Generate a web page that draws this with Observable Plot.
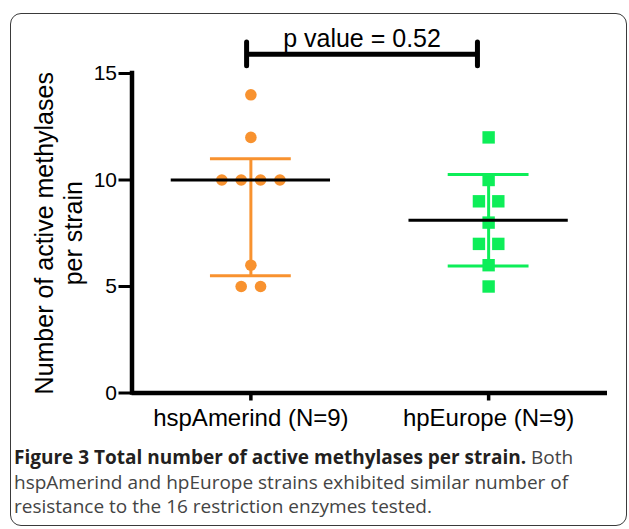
<!DOCTYPE html>
<html>
<head>
<meta charset="utf-8">
<script src="https://cdn.jsdelivr.net/npm/d3@7"></script>
<script src="https://cdn.jsdelivr.net/npm/@observablehq/plot@0.6"></script>
<style>
  html, body { margin: 0; padding: 0; background: #fff; }
  body { width: 629px; height: 529px; position: relative; overflow: hidden; }
  #frame { position: absolute; left: 10px; top: 13px; width: 617px; height: 513px;
           border: 1.3px solid #3a3a3a; border-radius: 11px; box-sizing: border-box; }
  #chart { position: absolute; left: 0; top: 0; }
  #caption { position: absolute; left: 14px; top: 445px; width: 612px;
             font-family: "Open Sans", sans-serif; font-size: 19px; line-height: 24.5px;
             color: #444; white-space: nowrap; }
  #caption b { color: #231f20; font-weight: 700; }
</style>
</head>
<body>
<div id="frame"></div>
<div id="chart"></div>
<div id="caption"><b>Figure 3 Total number of active methylases per strain.</b> Both<br>hspAmerind and hpEurope strains exhibited similar number of<br>resistance to the 16 restriction enzymes tested.</div>
<script>
// ---- data ----
const groups = ["hspAmerind (N=9)", "hpEurope (N=9)"];
const hspAmerind = [14, 12, 10, 10, 10, 10, 6, 5, 5];
const hpEurope = [12, 10, 9, 9, 8, 7, 7, 6, 5];
const centers = [10, 8.11];      // black line (median / mean)
const lows = [5.5, 5.96];        // lower error bar
const highs = [11, 10.26];       // upper error bar
const yTicks = [0, 5, 10, 15];
const pLabel = "p value = 0.52";

const colors = ["#F8922F", "#0DEE58"];

// build point table, spreading equal values side by side
const step = 0.0815;
function spread(vals, g) {
  const counts = d3.rollup(vals, v => v.length, v => v);
  const seen = new Map();
  return vals.map(v => {
    const n = counts.get(v);
    const k = seen.get(v) || 0;
    seen.set(v, k + 1);
    return { group: g, value: v, x: g + (k - (n - 1) / 2) * step };
  });
}
const pts1 = spread(hspAmerind, 1);
const pts2 = spread(hpEurope, 2);
const stats = groups.map((name, i) => ({ g: i + 1, c: centers[i], lo: lows[i], hi: highs[i], color: colors[i] }));

const bracketY = 15.9;
const bracketX = [0.982, 1.953];

const font = "Liberation Sans, Arial, sans-serif";

const chart = Plot.plot({
  width: 629,
  height: 450,
  marginLeft: 131.5,
  marginRight: 22,
  marginTop: 73,
  marginBottom: 57.5,
  style: { fontFamily: font, color: "#000", background: "transparent", overflow: "visible" },
  x: { domain: [0.5, 2.5] },
  y: { domain: [0, 15] },
  marks: [
    // axes
    Plot.axisY({ ticks: yTicks, tickSize: 13, tickPadding: 2, fontSize: 21, strokeWidth: 3, label: null, tickFormat: d => d }),
    Plot.axisX({ ticks: [1, 2], tickSize: 8, tickPadding: 8, fontSize: 24, strokeWidth: 3.5, label: null, tickFormat: d => groups[d - 1] }),
    Plot.ruleX([0.5], { y1: 0, y2: 15, stroke: "#000", strokeWidth: 4.5, strokeLinecap: "square" }),
    Plot.ruleY([0], { x1: 0.5, x2: 2.5, stroke: "#000", strokeWidth: 4.5 }),
    Plot.text(["Number of active methylases\nper strain"], {
      frameAnchor: "left", textAnchor: "middle", lineAnchor: "middle", rotate: -90, dx: -74, dy: 0, fontSize: 25, lineHeight: 1.15, fill: "#000"
    }),
    // error bars
    Plot.ruleX(stats, { x: "g", y1: "lo", y2: "hi", stroke: "color", strokeWidth: 3 }),
    Plot.ruleY(stats, { y: "lo", x1: d => d.g - 0.17, x2: d => d.g + 0.17, stroke: "color", strokeWidth: 3 }),
    Plot.ruleY(stats, { y: "hi", x1: d => d.g - 0.17, x2: d => d.g + 0.17, stroke: "color", strokeWidth: 3 }),
    // points
    Plot.dot(pts1, { x: "x", y: "value", r: 5.8, fill: colors[0], stroke: "none" }),
    Plot.dot(pts2, { x: "x", y: "value", r: 7, symbol: "square", fill: colors[1], stroke: "none" }),
    // center lines
    Plot.ruleY(stats, { y: "c", x1: d => d.g - 0.335, x2: d => d.g + 0.335, stroke: "#000", strokeWidth: 3 }),
    // p-value bracket
    Plot.ruleY([bracketY], { x1: bracketX[0], x2: bracketX[1], stroke: "#000", strokeWidth: 5 }),
    Plot.ruleX(bracketX, { y1: bracketY - 0.56, y2: bracketY + 0.56, stroke: "#000", strokeWidth: 5, strokeLinecap: "round" }),
    Plot.text([pLabel], { x: (bracketX[0] + bracketX[1]) / 2, y: bracketY, dy: -7, lineAnchor: "bottom", fontSize: 25, fill: "#000" })
  ]
});
document.getElementById("chart").appendChild(chart);
</script>
</body>
</html>
